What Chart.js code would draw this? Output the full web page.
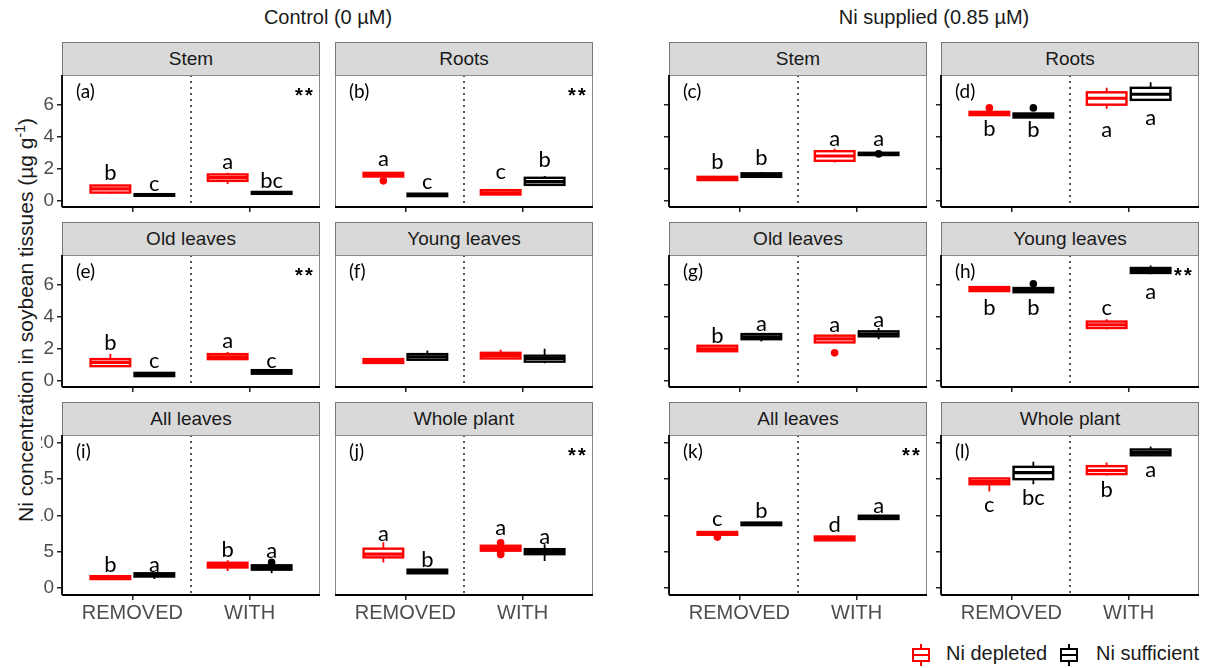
<!DOCTYPE html>
<html>
<head>
<meta charset="utf-8">
<script src="https://cdn.jsdelivr.net/npm/chart.js@4.4.1/dist/chart.umd.min.js"></script>
<style>
  body { margin: 0; background: #fff; }
  #fig { position: relative; width: 1213px; height: 668px; overflow: hidden; font-family: "Liberation Sans", Arial, sans-serif; color: #1a1a1a; }
  .strip { position: absolute; box-sizing: border-box; background: #d9d9d9; border: 1px solid #777; text-align: center; font-size: 19px; }
  .cell { position: absolute; overflow: hidden; }
  .title { position: absolute; top: 6px; font-size: 20px; transform: translateX(-50%); white-space: nowrap; }
  #ytitle { position: absolute; left: 25px; top: 320px; font-size: 21px; white-space: nowrap; transform: translate(-50%, -50%) rotate(-90deg); }
  #ytitle sup { font-size: 14px; }
  .legend { position: absolute; top: 642px; font-size: 20px; white-space: nowrap; }
  .key { position: absolute; width: 18px; height: 22px; }
  .key .wh { position: absolute; left: 8px; top: 0; width: 2px; height: 22px; }
  .key .bx { position: absolute; left: 0; top: 4px; width: 18px; height: 14px; box-sizing: border-box; border: 2px solid; background: #fff; }
  .key .md { position: absolute; left: 0; top: 10px; width: 18px; height: 2px; }
</style>
</head>
<body>
<div id="fig">
  <div class="title" style="left:328px">Control (0 µM)</div>
  <div class="title" style="left:934px">Ni supplied (0.85 µM)</div>
  <div id="ytitle">Ni concentration in soybean tissues (µg g<sup>-1</sup>)</div>
  <div class="key" style="left:912px;top:644px">
    <div class="wh" style="background:#ff0000"></div><div class="bx" style="border-color:#ff0000"></div><div class="md" style="background:#ff0000"></div>
  </div>
  <div class="legend" style="left:946px">Ni depleted</div>
  <div class="key" style="left:1060px;top:644px">
    <div class="wh" style="background:#000"></div><div class="bx" style="border-color:#000"></div><div class="md" style="background:#000"></div>
  </div>
  <div class="legend" style="left:1096px">Ni sufficient</div>
</div>
<script>
// categories and series
const groups = ["REMOVED", "WITH"];
const series = ["Ni depleted", "Ni sufficient"];
const colors = ["#ff0000", "#000000"];
const smallTicks = [0, 2, 4, 6];
const bigTicks = [0, 5, 10, 15, 20];

// box stats: [lower whisker, q1, median, q3, upper whisker] for REMOVED, WITH
// outliers: [series, group, value]
// letters: depleted REMOVED, depleted WITH, sufficient REMOVED, sufficient WITH

// (a) Stem - control
const aDep = [[0.45, 0.52, 0.75, 0.96, 1.0], [1.05, 1.25, 1.45, 1.65, 1.75]];
const aSuf = [[0.3, 0.32, 0.37, 0.42, 0.44], [0.42, 0.44, 0.5, 0.56, 0.58]];
const aOut = [];
const aLet = ["b", "a", "c", "bc"];
const aLetY = [1.75, 2.45, 1.05, 1.25];

// (b) Roots - control
const bDep = [[1.5, 1.52, 1.65, 1.75, 1.78], [0.36, 0.4, 0.5, 0.67, 0.75]];
const bSuf = [[0.3, 0.3, 0.37, 0.45, 0.45], [0.95, 1.0, 1.2, 1.44, 1.55]];
const bOut = [[0, 0, 1.25]];
const bLet = ["a", "c", "c", "b"];
const bLetY = [2.6, 1.78, 1.2, 2.55];

// (c) Stem - Ni supplied
const cDep = [[1.25, 1.3, 1.4, 1.5, 1.55], [2.4, 2.5, 2.8, 3.1, 3.25]];
const cSuf = [[1.45, 1.5, 1.6, 1.72, 1.8], [2.85, 2.86, 2.92, 3.0, 3.0]];
const cOut = [[1, 1, 2.93]];
const cLet = ["b", "a", "b", "a"];
const cLetY = [2.45, 3.85, 2.65, 3.85];

// (d) Roots - Ni supplied
const dDep = [[5.3, 5.35, 5.45, 5.55, 5.6], [5.75, 6.0, 6.4, 6.77, 7.05]];
const dSuf = [[5.2, 5.2, 5.32, 5.45, 5.48], [6.25, 6.3, 6.65, 7.05, 7.4]];
const dOut = [[0, 0, 5.8], [1, 0, 5.8]];
const dLet = ["b", "a", "b", "a"];
const dLetY = [4.47, 4.43, 4.43, 5.16];

// (e) Old leaves - control
const eDep = [[0.9, 0.92, 1.15, 1.36, 1.7], [1.34, 1.36, 1.5, 1.67, 1.8]];
const eSuf = [[0.3, 0.3, 0.4, 0.5, 0.55], [0.4, 0.45, 0.55, 0.67, 0.67]];
const eOut = [];
const eLet = ["b", "a", "c", "c"];
const eLetY = [2.38, 2.5, 1.25, 1.25];

// (f) Young leaves - control
const fDep = [[1.09, 1.12, 1.25, 1.36, 1.38], [1.38, 1.4, 1.58, 1.75, 1.95]];
const fSuf = [[1.3, 1.32, 1.5, 1.67, 1.9], [1.1, 1.2, 1.4, 1.57, 2.0]];
const fOut = [];
const fLet = [];
const fLetY = [];

// (g) Old leaves - Ni supplied
const gDep = [[1.82, 1.85, 2.0, 2.19, 2.2], [2.38, 2.4, 2.62, 2.82, 2.9]];
const gSuf = [[2.45, 2.6, 2.75, 2.92, 2.95], [2.6, 2.78, 2.92, 3.09, 3.3]];
const gOut = [[0, 1, 1.75]];
const gLet = ["b", "a", "a", "a"];
const gLetY = [2.8, 3.5, 3.55, 3.8];

// (h) Young leaves - Ni supplied
const hDep = [[5.58, 5.6, 5.72, 5.85, 5.9], [3.2, 3.3, 3.5, 3.7, 3.85]];
const hSuf = [[5.52, 5.53, 5.65, 5.79, 5.79], [6.65, 6.73, 6.88, 7.04, 7.2]];
const hOut = [[1, 0, 6.06]];
const hLet = ["b", "c", "b", "a"];
const hLetY = [4.53, 4.53, 4.53, 5.52];

// (i) All leaves - control
const iDep = [[1.15, 1.2, 1.4, 1.6, 1.62], [2.3, 2.8, 3.1, 3.45, 3.8]];
const iSuf = [[1.2, 1.55, 1.8, 2.0, 2.1], [2.0, 2.5, 2.8, 3.1, 3.2]];
const iOut = [[1, 1, 3.5]];
const iLet = ["b", "b", "a", "a"];
const iLetY = [3.1, 5.2, 3.1, 5.1];

// (j) Whole plant - control
const jDep = [[3.5, 4.2, 4.65, 5.4, 6.3], [5.1, 5.12, 5.45, 5.8, 5.8]];
const jSuf = [[2.0, 2.0, 2.25, 2.5, 2.55], [3.7, 4.64, 5.0, 5.33, 6.0]];
const jOut = [[0, 1, 6.2], [0, 1, 4.6], [0, 1, 4.8]];
const jLet = ["a", "a", "b", "a"];
const jLetY = [7.5, 8.2, 3.9, 7.0];

// (k) All leaves - Ni supplied
const kDep = [[7.3, 7.32, 7.5, 7.7, 7.7], [6.53, 6.55, 6.8, 7.08, 7.1]];
const kSuf = [[8.6, 8.65, 8.8, 9.0, 9.0], [9.5, 9.5, 9.7, 9.95, 10.0]];
const kOut = [[0, 0, 7.0]];
const kLet = ["c", "d", "b", "a"];
const kLetY = [9.56, 8.65, 10.6, 11.26];

// (l) Whole plant - Ni supplied
const lDep = [[13.3, 14.3, 14.7, 15.1, 15.1], [15.5, 15.7, 16.2, 16.8, 17.3]];
const lSuf = [[14.3, 15.0, 15.9, 16.7, 17.4], [18.3, 18.3, 18.7, 19.1, 19.5]];
const lOut = [];
const lLet = ["c", "b", "bc", "a"];
const lLetY = [11.5, 13.5, 12.4, 16.3];

// layout
const colX = [62, 335, 669, 941];
const plotW = 258;
const rowTop = [75, 255, 435];
const rowH = [132, 132, 160];
const stripH = 33;
const letterFont = "Lato, 'Open Sans', sans-serif";

const panels = [
  { tag: "(a)", title: "Stem", row: 0, col: 0, dep: aDep, suf: aSuf, out: aOut, let: aLet, letY: aLetY, stars: true },
  { tag: "(b)", title: "Roots", row: 0, col: 1, dep: bDep, suf: bSuf, out: bOut, let: bLet, letY: bLetY, stars: true },
  { tag: "(c)", title: "Stem", row: 0, col: 2, dep: cDep, suf: cSuf, out: cOut, let: cLet, letY: cLetY, stars: false },
  { tag: "(d)", title: "Roots", row: 0, col: 3, dep: dDep, suf: dSuf, out: dOut, let: dLet, letY: dLetY, stars: false },
  { tag: "(e)", title: "Old leaves", row: 1, col: 0, dep: eDep, suf: eSuf, out: eOut, let: eLet, letY: eLetY, stars: true },
  { tag: "(f)", title: "Young leaves", row: 1, col: 1, dep: fDep, suf: fSuf, out: fOut, let: fLet, letY: fLetY, stars: false },
  { tag: "(g)", title: "Old leaves", row: 1, col: 2, dep: gDep, suf: gSuf, out: gOut, let: gLet, letY: gLetY, stars: false },
  { tag: "(h)", title: "Young leaves", row: 1, col: 3, dep: hDep, suf: hSuf, out: hOut, let: hLet, letY: hLetY, stars: true },
  { tag: "(i)", title: "All leaves", row: 2, col: 0, dep: iDep, suf: iSuf, out: iOut, let: iLet, letY: iLetY, stars: false },
  { tag: "(j)", title: "Whole plant", row: 2, col: 1, dep: jDep, suf: jSuf, out: jOut, let: jLet, letY: jLetY, stars: true },
  { tag: "(k)", title: "All leaves", row: 2, col: 2, dep: kDep, suf: kSuf, out: kOut, let: kLet, letY: kLetY, stars: true },
  { tag: "(l)", title: "Whole plant", row: 2, col: 3, dep: lDep, suf: lSuf, out: lOut, let: lLet, letY: lLetY, stars: false },
];

// draws whiskers, boxes, medians, outliers and the panel decorations
function boxPlugin(p, yTicks) {
  return {
    id: "boxes",
    beforeDatasetsDraw(chart) {
      const { ctx, chartArea: a, scales: { x } } = chart;
      const xm = x.getPixelForValue(1.5);
      ctx.save();
      ctx.strokeStyle = "#444";
      ctx.lineWidth = 1.8;
      ctx.setLineDash([2, 4]);
      ctx.beginPath();
      ctx.moveTo(xm, a.top);
      ctx.lineTo(xm, a.bottom);
      ctx.stroke();
      ctx.restore();
    },
    afterDatasetsDraw(chart) {
      const { ctx, chartArea: a, scales: { y } } = chart;
      ctx.save();
      [p.dep, p.suf].forEach((stats, k) => {
        const meta = chart.getDatasetMeta(k);
        stats.forEach((b, i) => {
          const el = meta.data[i];
          const cx = el.x, hw = el.width / 2;
          const [lo, q1, md, q3, hi] = b.map(v => y.getPixelForValue(v));
          ctx.strokeStyle = colors[k];
          ctx.lineWidth = 1.8;
          ctx.beginPath();
          ctx.moveTo(cx, lo); ctx.lineTo(cx, q1);
          ctx.moveTo(cx, q3); ctx.lineTo(cx, hi);
          ctx.stroke();
          ctx.lineWidth = 2.4;
          ctx.strokeRect(cx - hw, q3, hw * 2, q1 - q3);
          ctx.lineWidth = 3.2;
          ctx.beginPath();
          ctx.moveTo(cx - hw, md); ctx.lineTo(cx + hw, md);
          ctx.stroke();
        });
      });
      p.out.forEach(([k, i, v]) => {
        const el = chart.getDatasetMeta(k).data[i];
        ctx.fillStyle = colors[k];
        ctx.beginPath();
        ctx.arc(el.x, y.getPixelForValue(v), 3.8, 0, Math.PI * 2);
        ctx.fill();
      });
      ctx.fillStyle = "#000";
      ctx.textAlign = "center";
      ctx.textBaseline = "middle";
      ctx.font = "22px " + letterFont;
      p.let.forEach((t, j) => {
        const el = chart.getDatasetMeta(j < 2 ? 0 : 1).data[j % 2];
        ctx.fillText(t, el.x, y.getPixelForValue(p.letY[j]));
      });
      ctx.textAlign = "left";
      ctx.font = "19px " + letterFont;
      ctx.fillText(p.tag, a.left + 14, a.top + 17);
      if (p.stars) {
        ctx.textAlign = "center";
        ctx.textBaseline = "alphabetic";
        ctx.font = "bold 20px 'Liberation Sans', Arial, sans-serif";
        ctx.fillText("*", a.right - 21, a.top + 27);
        ctx.fillText("*", a.right - 11, a.top + 27);
      }
      // panel border, then the black axis lines
      ctx.strokeStyle = "#888";
      ctx.lineWidth = 1;
      ctx.strokeRect(a.left + 0.5, a.top + 0.5, a.width - 1, a.height - 1);
      ctx.strokeStyle = "#000";
      ctx.lineWidth = 1.8;
      ctx.beginPath();
      ctx.moveTo(a.left, a.bottom);
      ctx.lineTo(a.right, a.bottom);
      if (yTicks) {
        ctx.moveTo(a.left, a.top);
        ctx.lineTo(a.left, a.bottom);
      }
      ctx.stroke();
      ctx.restore();
    }
  };
}

function drawPanel(p) {
  const fig = document.getElementById("fig");
  const big = p.row === 2;
  const yTicks = p.col !== 1;
  const left = p.col === 0 ? 44 : 8;
  const bottom = big ? 34 : 8;
  const x0 = colX[p.col], y0 = rowTop[p.row], h = rowH[p.row];
  const W = left + plotW + 1, H = 1 + h + bottom;

  const strip = document.createElement("div");
  strip.className = "strip";
  strip.style.cssText = `left:${x0}px;top:${y0 - stripH}px;width:${plotW}px;height:${stripH + 1}px;line-height:${stripH - 1}px`;
  strip.textContent = p.title;
  fig.appendChild(strip);

  // the first bottom panel is cropped on its left, as in the source figure
  const clipX = (p.col === 0 && big) ? 41 : x0 - left;
  const wrap = document.createElement("div");
  wrap.className = "cell";
  wrap.style.cssText = `left:${clipX}px;top:${y0 - 1}px;width:${x0 - left + W - clipX}px;height:${H}px`;
  const cv = document.createElement("canvas");
  cv.width = W;
  cv.height = H;
  cv.style.cssText = `position:absolute;left:${x0 - left - clipX}px;top:0`;
  wrap.appendChild(cv);
  fig.appendChild(wrap);

  const ticks = big ? bigTicks : smallTicks;
  new Chart(cv, {
    type: "bar",
    data: {
      datasets: series.map((s, k) => ({
        label: s,
        data: (k ? p.suf : p.dep).map((b, i) => ({ x: i + 1, y: [b[1], b[3]] })),
        backgroundColor: "#ffffff",
        borderWidth: 0,
        categoryPercentage: 0.75,
        barPercentage: 0.9,
      })),
    },
    options: {
      responsive: false,
      animation: false,
      devicePixelRatio: 1,
      layout: { padding: { top: 1, right: 1, left: 0, bottom: 0 } },
      plugins: { legend: { display: false }, tooltip: { enabled: false } },
      scales: {
        x: {
          type: "linear",
          min: 0.4,
          max: 2.6,
          offset: false,
          afterBuildTicks: s => { s.ticks = groups.map((g, i) => ({ value: i + 1 })); },
          afterFit: s => { s.height = bottom; s.paddingLeft = 0; s.paddingRight = 0; },
          ticks: {
            display: big,
            autoSkip: false,
            maxRotation: 0,
            padding: 1,
            color: "#4d4d4d",
            font: { size: 20, family: "'Liberation Sans', Arial, sans-serif" },
            callback: (v, i) => groups[i],
          },
          grid: { display: true, drawOnChartArea: false, drawTicks: true, tickLength: 5, lineWidth: 1.5, color: "#222", offset: false },
          border: { display: false },
        },
        y: {
          min: big ? -1.0 : -0.38,
          max: big ? 21.1 : 7.85,
          afterBuildTicks: s => { s.ticks = ticks.map(v => ({ value: v })); },
          afterFit: s => { s.width = left; s.paddingTop = 0; s.paddingBottom = 0; },
          ticks: {
            display: p.col === 0,
            padding: 3,
            color: "#4d4d4d",
            font: { size: 19, family: "'Liberation Sans', Arial, sans-serif" },
          },
          grid: { display: yTicks, drawOnChartArea: false, drawTicks: true, tickLength: 5, lineWidth: 1.5, color: "#222" },
          border: { display: false },
        },
      },
    },
    plugins: [boxPlugin(p, yTicks)],
  });
}

panels.forEach(drawPanel);
</script>
</body>
</html>
